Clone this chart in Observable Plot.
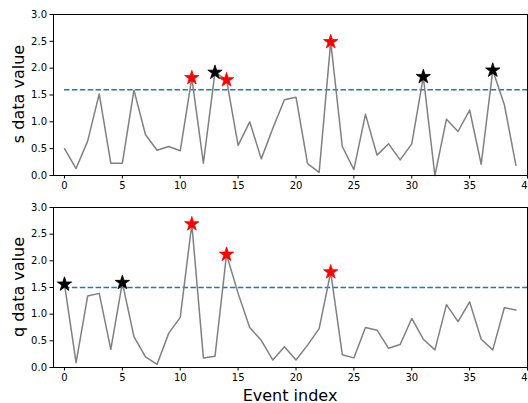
<!DOCTYPE html>
<html>
<head>
<meta charset="utf-8">
<script src="https://cdn.jsdelivr.net/npm/d3@7"></script>
<script src="https://cdn.jsdelivr.net/npm/@observablehq/plot@0.6"></script>
<style>
  html, body { margin: 0; padding: 0; background: white; }
  #wrap { position: relative; width: 528px; height: 403px; overflow: hidden; font-family: "DejaVu Sans", sans-serif; }
  .panel { position: absolute; left: 0; }
  .ylab { position: absolute; font-size: 16px; white-space: nowrap; transform: translate(-50%, -50%) rotate(-90deg); color: #000; }
  .xlab { position: absolute; font-size: 16px; white-space: nowrap; transform: translate(-50%, -50%); color: #000; }
</style>
</head>
<body>
<div id="wrap"></div>
<script>
// Series values (index 0..39)
const sValues = [0.50, 0.13, 0.64, 1.52, 0.23, 0.23, 1.59, 0.76, 0.47, 0.54,
                 0.46, 1.82, 0.23, 1.92, 1.78, 0.56, 1.00, 0.31, 0.88, 1.41,
                 1.46, 0.22, 0.06, 2.49, 0.54, 0.11, 1.14, 0.38, 0.59, 0.29,
                 0.59, 1.84, 0.00, 1.05, 0.82, 1.22, 0.21, 1.96, 1.32, 0.19];
const qValues = [1.56, 0.09, 1.34, 1.39, 0.34, 1.59, 0.58, 0.20, 0.06, 0.64,
                 0.94, 2.69, 0.18, 0.21, 2.12, 1.39, 0.75, 0.51, 0.14, 0.39,
                 0.14, 0.42, 0.73, 1.79, 0.24, 0.18, 0.75, 0.70, 0.36, 0.43,
                 0.92, 0.53, 0.33, 1.18, 0.86, 1.23, 0.53, 0.33, 1.12, 1.08];
const sThreshold = 1.6;
const qThreshold = 1.5;
const sRedIdx = [11, 14, 23];
const sBlackIdx = [13, 31, 37];
const qRedIdx = [11, 14, 23];
const qBlackIdx = [0, 5];
const xTicks = [0, 5, 10, 15, 20, 25, 30, 35, 40];
const yTicks = [0, 0.5, 1.0, 1.5, 2.0, 2.5, 3.0];
const sLabel = "s data value";
const qLabel = "q data value";
const xLabel = "Event index";

function panel(values, threshold, redIdx, blackIdx, opts) {
  const pts = values.map((v, i) => ({i, v}));
  const red = redIdx.map(i => ({i, v: values[i]}));
  const black = blackIdx.map(i => ({i, v: values[i]}));
  return Plot.plot({
    width: 528,
    height: opts.height,
    marginLeft: 53,
    marginRight: 1,
    marginTop: opts.marginTop,
    marginBottom: opts.marginBottom,
    style: {fontFamily: "DejaVu Sans, sans-serif", fontSize: "10px", background: "white", overflow: "visible", color: "black"},
    x: {domain: [-0.95, 40], ticks: xTicks, tickSize: 3.5, tickPadding: 3, label: null},
    y: {domain: [0, 3], ticks: yTicks, tickSize: 3.5, tickPadding: 3, tickFormat: d3.format(".1f"), label: null},
    marks: [
      Plot.ruleY([threshold], {x1: 0, x2: 40, stroke: "#1f77b4", strokeWidth: 1.5, strokeDasharray: "5.5,2.4"}),
      Plot.line(pts, {x: "i", y: "v", stroke: "#808080", strokeWidth: 1.5}),
      Plot.dot(red, {x: "i", y: "v", symbol: "star", r: 4.5, fill: "red", stroke: "red", strokeWidth: 0.8}),
      Plot.dot(black, {x: "i", y: "v", symbol: "star", r: 4.5, fill: "black", stroke: "black", strokeWidth: 0.8}),
      Plot.frame({stroke: "black", strokeWidth: 1})
    ]
  });
}

const wrap = document.getElementById("wrap");

const topChart = panel(sValues, sThreshold, sRedIdx, sBlackIdx, {height: 195, marginTop: 14, marginBottom: 20});
const topDiv = document.createElement("div");
topDiv.className = "panel"; topDiv.style.top = "0px";
topDiv.appendChild(topChart);
wrap.appendChild(topDiv);

const botChart = panel(qValues, qThreshold, qRedIdx, qBlackIdx, {height: 210, marginTop: 14, marginBottom: 36});
const botDiv = document.createElement("div");
botDiv.className = "panel"; botDiv.style.top = "193px";
botDiv.appendChild(botChart);
wrap.appendChild(botDiv);

function addLabel(cls, text, x, y) {
  const d = document.createElement("div");
  d.className = cls; d.textContent = text;
  d.style.left = x + "px"; d.style.top = y + "px";
  wrap.appendChild(d);
}
addLabel("ylab", sLabel, 18, 94);
addLabel("ylab", qLabel, 18, 287);
addLabel("xlab", xLabel, 290, 395);
</script>
</body>
</html>
